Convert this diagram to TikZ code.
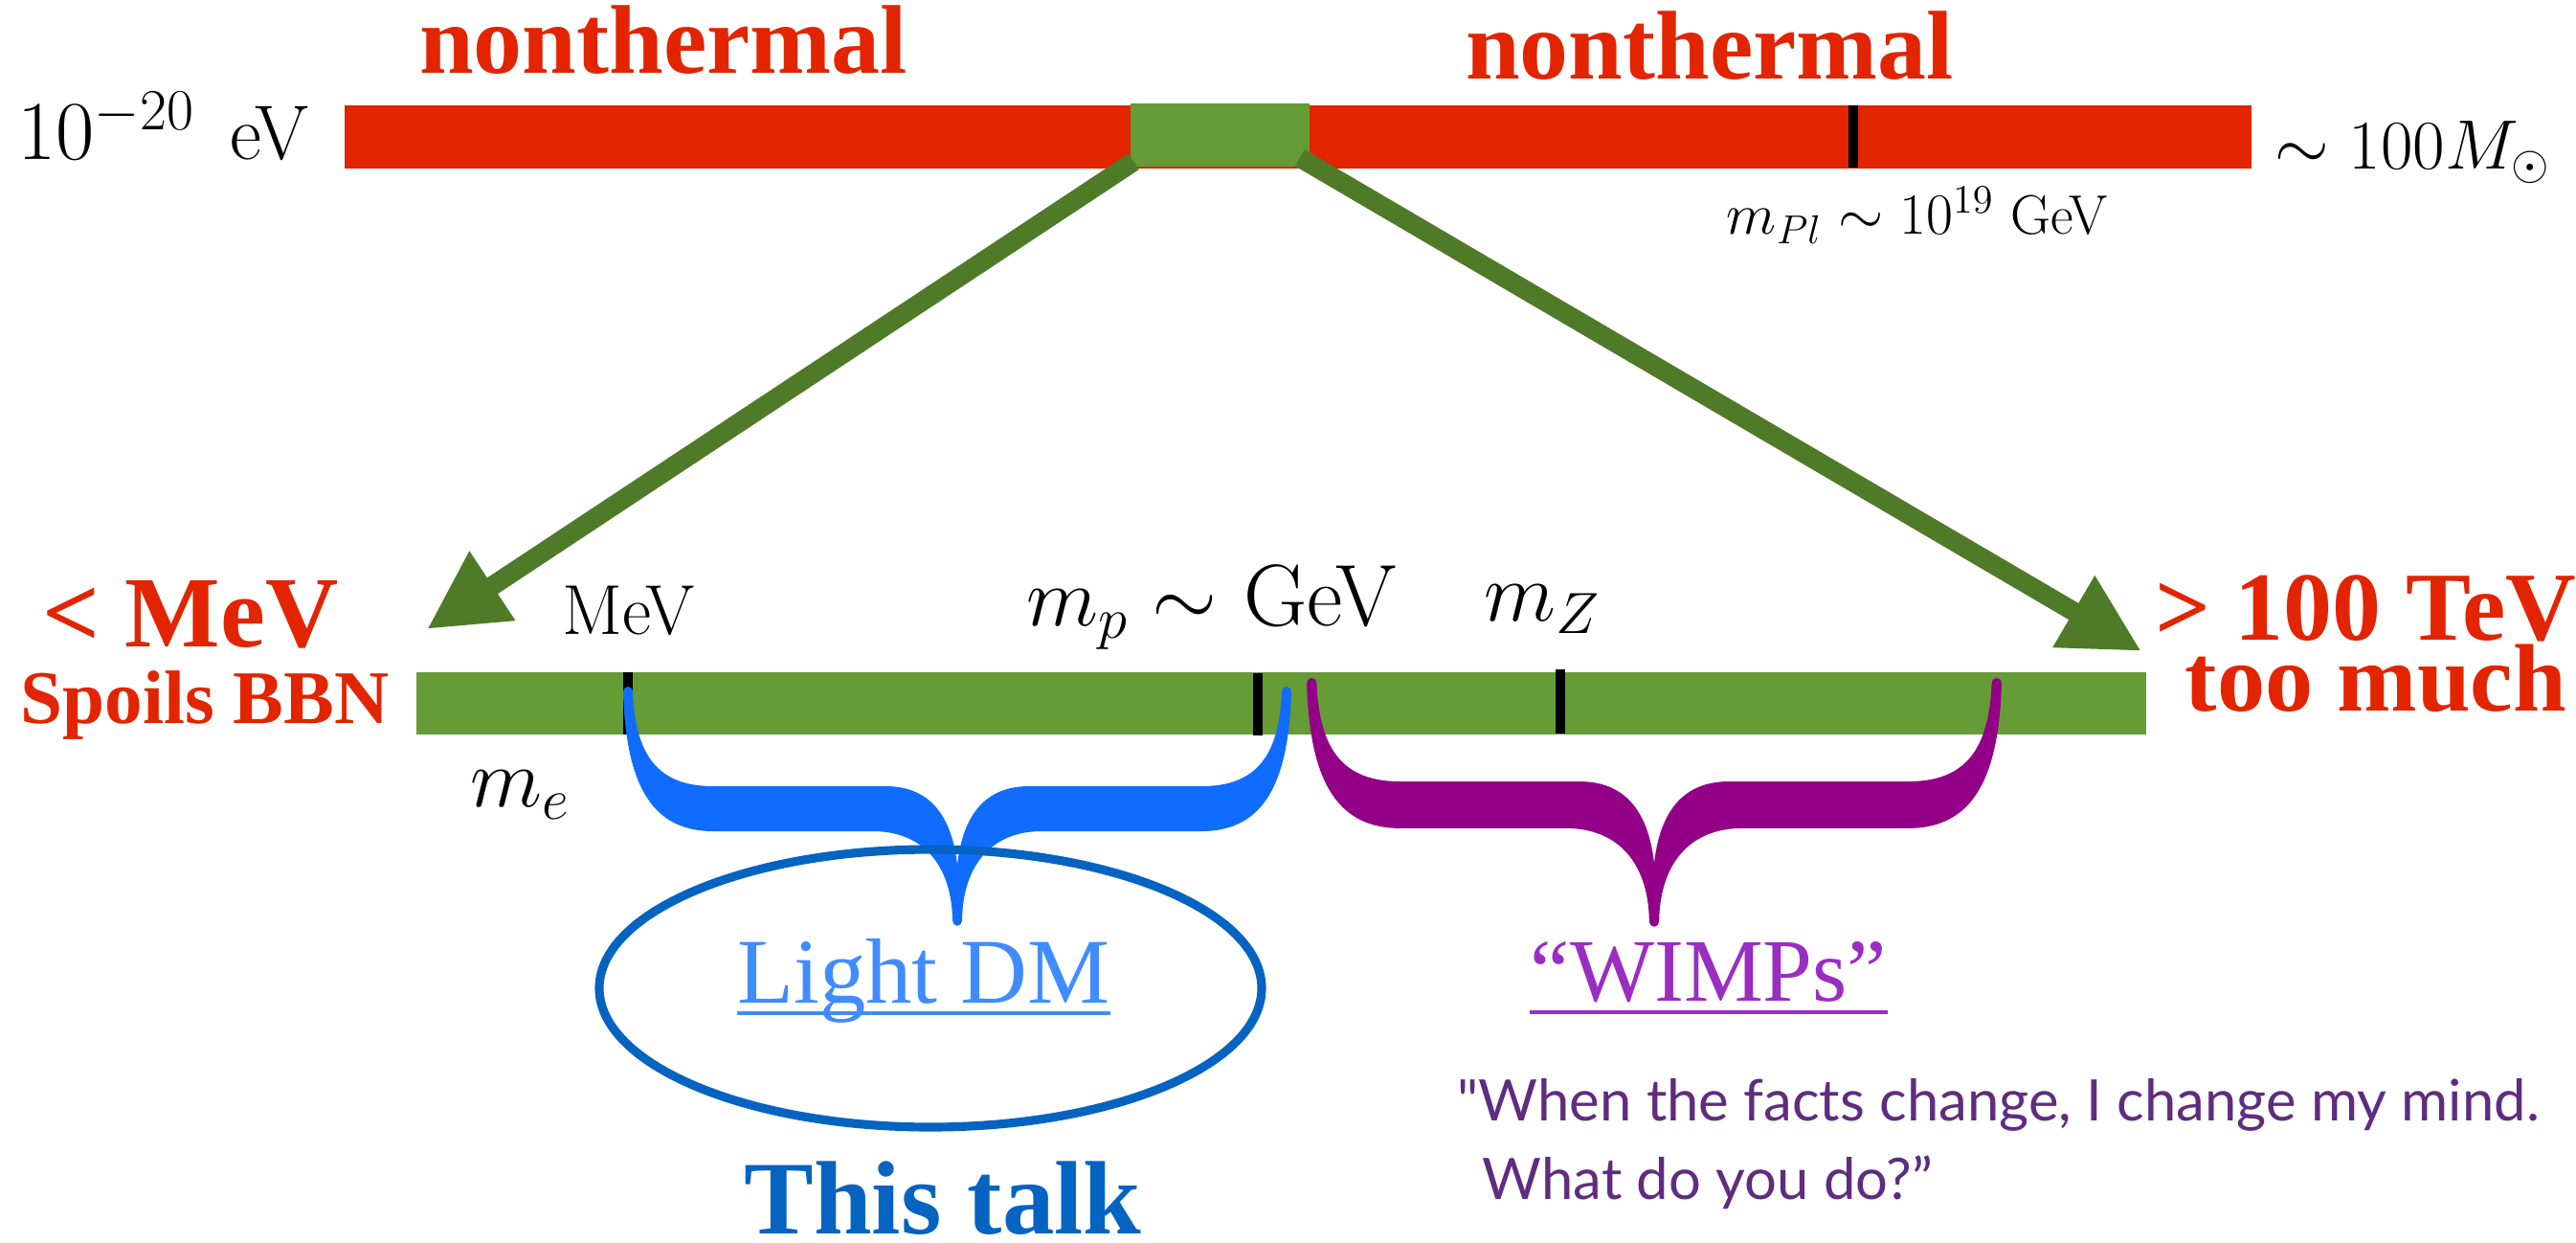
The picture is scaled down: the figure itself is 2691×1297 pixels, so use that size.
\documentclass[tikz,border=0pt]{standalone}
\usepackage{fontspec}
\usetikzlibrary{arrows.meta}

\newfontfamily\slabfont{Liberation Serif}
\newfontfamily\quotefont{Lato}

\definecolor{barred}{RGB}{226,36,0}
\definecolor{bargreen}{RGB}{102,156,53}
\definecolor{arrowgreen}{RGB}{79,122,40}
\definecolor{bracebl}{RGB}{16,108,255}
\definecolor{talkblue}{RGB}{5,99,193}
\definecolor{dmblue}{RGB}{64,140,255}
\definecolor{bracepu}{RGB}{147,0,135}
\definecolor{wimppu}{RGB}{154,45,194}
\definecolor{quotepu}{RGB}{95,44,127}

% curly brace: colour, centre x, top y, scale
\newcommand{\calbrace}[4]{%
  \fill[#1, shift={(#2,#3)}, scale=#4]
    (-349,3) .. controls (-346,95) and (-322,148) .. (-255,148)
    -- (-85,148) .. controls (-30,150) and (-6,190) .. (-5,240)
    .. controls (-5,249) and (5,249) .. (5,240)
    .. controls (6,190) and (30,150) .. (85,148)
    -- (255,148) .. controls (322,148) and (346,95) .. (349,3)
    .. controls (349,-5) and (339,-5) .. (339,3)
    .. controls (336,70) and (312,101) .. (255,101)
    -- (75,101) .. controls (30,101) and (6,130) .. (0,183)
    .. controls (-6,130) and (-30,101) .. (-75,101)
    -- (-255,101) .. controls (-312,101) and (-336,70) .. (-339,3)
    .. controls (-339,-5) and (-349,-5) .. (-349,3) -- cycle;
}

\tikzset{
  lbl/.style={inner sep=0pt, anchor=base},
  redlbl/.style={lbl, text=barred, font=\slabfont\bfseries\fontsize{#1}{#1}\selectfont},
  tick/.style={line width=2.6pt, black},
  bigarrow/.style={arrowgreen, line width=5.7pt, -{Triangle[length=8.2mm,width=8.1mm]}},
}

\begin{document}
\begin{tikzpicture}[x=0.01cm, y=-0.01cm]
    \useasboundingbox (0,0) rectangle (2691,1297);

    % Top scale
    \fill[barred] (360,110) rectangle (2352,176);
    \node[fill=bargreen, inner sep=0pt, minimum width=1.87cm, minimum height=0.66cm] (win) at (1274.5,141) {};
    \draw[tick] (1936,110) -- (1936,175);
    \node[redlbl=29] (nonL) at (693,77) {nonthermal};
    \node[redlbl=29] (nonR) at (1786,83) {nonthermal};
    \node[lbl, anchor=base west, font=\fontsize{23}{26}\selectfont] (emin) at (18,167) {$10^{-20}$\hspace{0.45em}eV};
    \node[lbl, anchor=base west, font=\fontsize{22}{26}\selectfont] (emax) at (2376,177) {$\sim 100 M_\odot$};
    \node[lbl, font=\fontsize{16.5}{20}\selectfont] (mpl) at (2003,245) {$m_{Pl}\sim 10^{19}$ GeV};

    % Bottom scale
    \fill[bargreen] (435,702) rectangle (2242,767);
    \draw[tick] (656,702) -- (656,767);
    \draw[tick] (1314,703) -- (1314,768);
    \draw[tick] (1630,699) -- (1630,766);
    \node[lbl, font=\fontsize{21}{24}\selectfont] (mev) at (657,662) {MeV};
    \node[lbl, anchor=base west, font=\fontsize{26}{29}\selectfont] (gev) at (1072,653) {$m_p\sim$ GeV};
    \node[lbl, anchor=base west, font=\fontsize{25}{28}\selectfont] (mz) at (1550,648) {$m_Z$};
    \node[lbl, anchor=base west, font=\fontsize{27}{30}\selectfont] (me) at (491,842) {$m_e$};

    % Zoom arrows
    \coordinate (lowend) at (446,657);
    \coordinate (highend) at (2237,680);
    \draw[bigarrow] ([shift={(4,-6)}]win.south west) -- (lowend);
    \draw[bigarrow] ([shift={(-11,-10)}]win.south east) -- (highend);

    % Limits
    \node[redlbl=30] (low) at (199,675) {< MeV};
    \node[redlbl=22.5] (bbn) at (214,755) {Spoils BBN};
    \node[redlbl=29] (high) at (2471,668) {> 100 TeV};
    \node[redlbl=28.5] (much) at (2482,742) {too much};

    % Braces
    \calbrace{bracebl}{1000}{720}{1};
    \calbrace{bracepu}{1728}{711}{1.04};

    % Light DM
    \draw[talkblue, line width=2.6pt] (972,1032) ellipse [x radius=346, y radius=145];
    \node[lbl, text=dmblue, font=\slabfont\fontsize{27.5}{30}\selectfont] (light) at (965,1047) {Light DM};
    \draw[dmblue, line width=1.4pt] ([yshift=-0.11cm]light.base west) -- ([yshift=-0.11cm]light.base east);
    \node[lbl, text=talkblue, font=\slabfont\bfseries\fontsize{31}{34}\selectfont] (talk) at (985,1288) {This talk};

    % WIMPs
    \node[lbl, text=wimppu, font=\slabfont\fontsize{26.5}{30}\selectfont] (wimps) at (1785,1045) {“WIMPs”};
    \draw[wimppu, line width=1.4pt] ([yshift=-0.12cm]wimps.base west) -- ([yshift=-0.12cm]wimps.base east);
    \node[lbl, anchor=base west, text=quotepu, font=\quotefont\fontsize{17}{20}\selectfont] (quoteA) at (1522,1170) {"When the facts change, I change my mind.};
    \node[lbl, anchor=base west, text=quotepu, font=\quotefont\fontsize{17}{20}\selectfont] (quoteB) at (1548,1252) {What do you do?”};

\end{tikzpicture}
\end{document}
